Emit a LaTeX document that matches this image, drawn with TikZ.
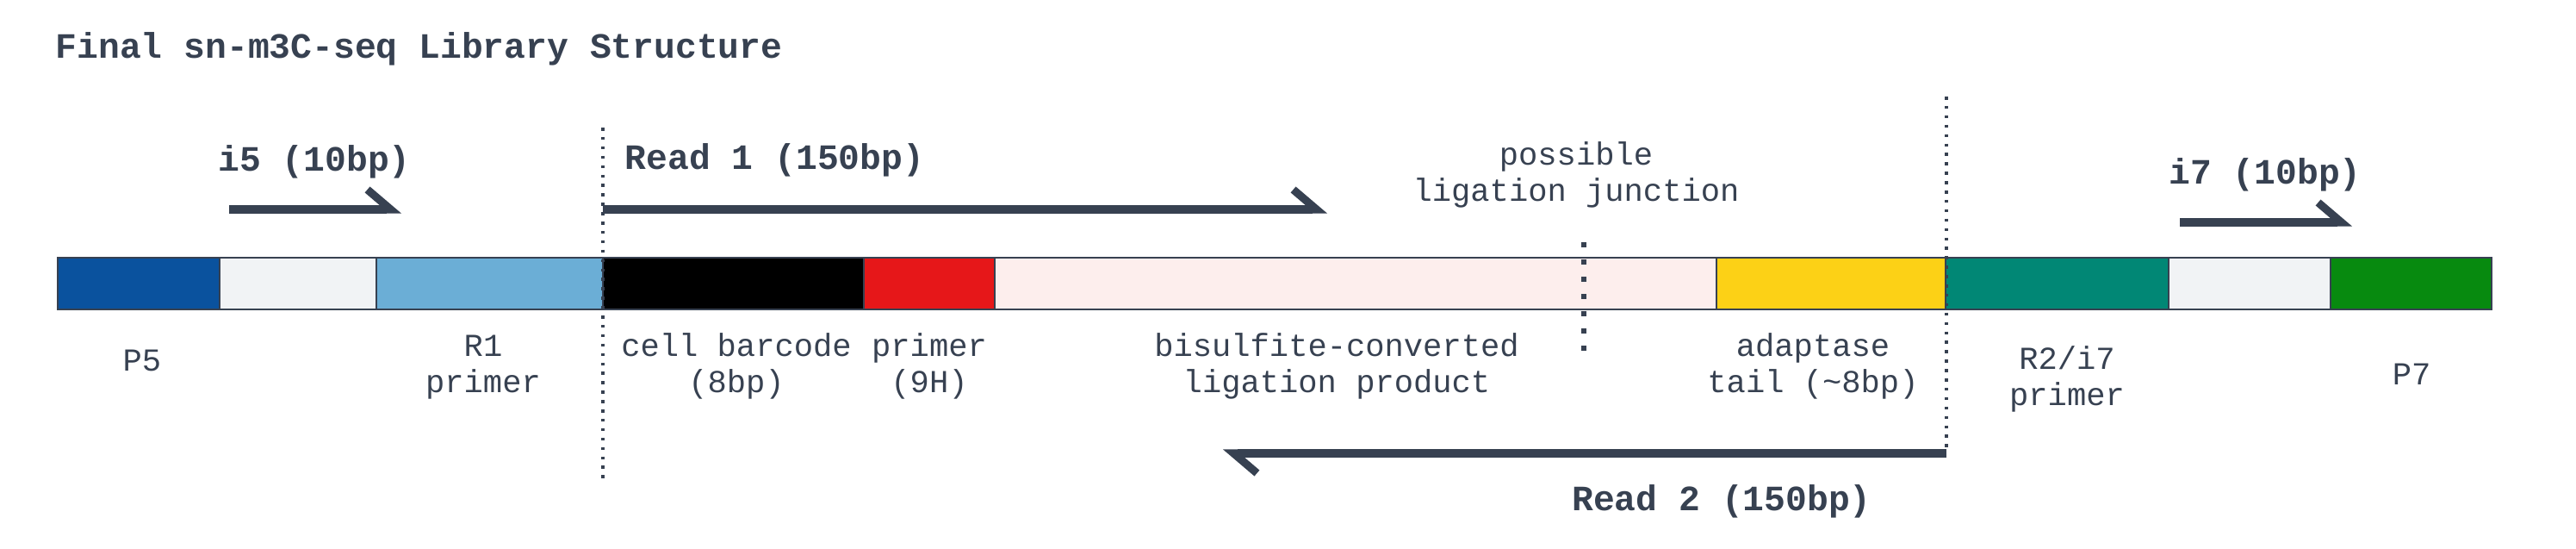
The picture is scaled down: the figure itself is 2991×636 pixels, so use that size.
\documentclass[tikz,border=0pt]{standalone}
\usepackage{fontspec}
\setmonofont{Liberation Mono}
\usepackage{xcolor}
\usepackage{tikz}
\usetikzlibrary{arrows.meta}

\definecolor{ink}{HTML}{374151}
\definecolor{pfive}{HTML}{0A529E}
\definecolor{spacer}{HTML}{F1F3F5}
\definecolor{rone}{HTML}{6BAED6}
\definecolor{barcode}{HTML}{000000}
\definecolor{nineh}{HTML}{E61719}
\definecolor{insert}{HTML}{FDEEED}
\definecolor{tail}{HTML}{FCD116}
\definecolor{rtwo}{HTML}{018775}
\definecolor{pseven}{HTML}{078A0F}

\begin{document}
\begin{tikzpicture}[x=0.01cm,y=-0.01cm,
    seg/.style={draw=ink,line width=0.6pt},
    lbl/.style={font=\fontsize{10.56}{11.8}\selectfont\ttfamily,text=ink,align=center,inner sep=0pt},
    hdr/.style={font=\fontsize{11.76}{13}\selectfont\ttfamily\bfseries,text=ink,inner sep=0pt},
    readarrow/.style={draw=ink,line width=2.6pt,-{Straight Barb[left,length=2.7mm,width=4.6mm]}},
    bound/.style={draw=ink,line width=1.1pt,dash pattern=on 1pt off 2.1pt}]
        \useasboundingbox (0,0) rectangle (2991,636);

        % title
        \node[hdr,anchor=base west] (title) at (64,67) {Final sn-m3C-seq Library Structure};

        % library bar
        \foreach \xa/\xb/\col in {67/255/pfive,255/437/spacer,437/700/rone,700/1003/barcode,1003/1155/nineh,
                                  1155/1993/insert,1993/2259/tail,2259/2518/rtwo,2518/2706/spacer,2706/2893/pseven}
            \filldraw[seg,fill=\col] (\xa,299) rectangle (\xb,359);

        % read boundaries
        \coordinate (b1top) at (700,148);
        \coordinate (b1bot) at (700,560);
        \coordinate (b2top) at (2260,112);
        \coordinate (b2bot) at (2260,523);
        \draw[bound] (b1top)--(b1bot);
        \draw[bound] (b2top)--(b2bot);

        % ligation junction
        \coordinate (jtop) at (1839,281);
        \coordinate (jbot) at (1839,410);
        \draw[draw=ink,line width=1.7pt,dash pattern=on 1.7pt off 4pt] (jtop)--(jbot);

        % reads
        \coordinate (i5s) at (266,243);
        \coordinate (i5e) at (466,243);
        \coordinate (r1s) at (700,243);
        \coordinate (r1e) at (1541,243);
        \coordinate (i7s) at (2531,258);
        \coordinate (i7e) at (2731,258);
        \coordinate (r2s) at (2260,526);
        \coordinate (r2e) at (1420,526);
        \draw[readarrow] (i5s)--(i5e);
        \draw[readarrow] (r1s)--(r1e);
        \draw[readarrow] (i7s)--(i7e);
        \draw[readarrow] (r2s)--(r2e);

        \node[hdr,anchor=base] (i5lbl) at (365,198) {i5 (10bp)};
        \node[hdr,anchor=base west] (r1lbl) at (725,196) {Read 1 (150bp)};
        \node[hdr,anchor=base] (i7lbl) at (2630,213) {i7 (10bp)};
        \node[hdr,anchor=base] (r2lbl) at (1999,592) {Read 2 (150bp)};
        \node[lbl,anchor=base] (junction) at (1830,233) {possible\\ligation junction};

        % segment labels (base = last line)
        \node[lbl,anchor=base] (p5lbl) at (165,430) {P5};
        \node[lbl,anchor=base] (r1primer) at (561,455) {R1\\primer};
        \node[lbl,anchor=base] (bclbl) at (855,455) {cell barcode\\(8bp)};
        \node[lbl,anchor=base] (ninehlbl) at (1079,455) {primer\\(9H)};
        \node[lbl,anchor=base] (insertlbl) at (1552,455) {bisulfite-converted\\ligation product};
        \node[lbl,anchor=base] (taillbl) at (2105,455) {adaptase\\tail (\textasciitilde8bp)};
        \node[lbl,anchor=base] (r2primer) at (2400,470) {R2/i7\\primer};
        \node[lbl,anchor=base] (p7lbl) at (2800,446) {P7};
\end{tikzpicture}
\end{document}
